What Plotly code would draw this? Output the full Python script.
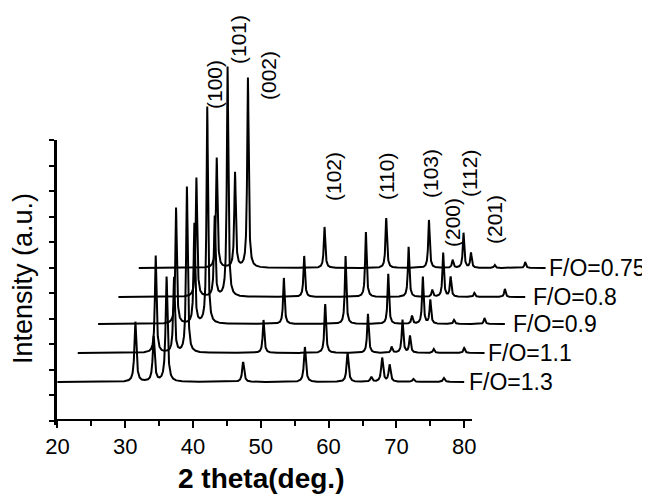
import numpy as np
import plotly.graph_objects as go

# ---- data ----
samples = ["F/O=1.3", "F/O=1.1", "F/O=0.9", "F/O=0.8", "F/O=0.75"]
hkl = ["(100)", "(002)", "(101)", "(102)", "(110)", "(103)", "(200)", "(112)", "(201)", "(004)", "(202)"]
peak_pos = [31.5, 34.2, 36.1, 47.4, 56.5, 62.8, 66.3, 67.9, 69.0, 72.5, 77.0]   # 2theta (deg)

# peak heights (a.u.) per sample, same order as peak_pos
h_13 = [60, 45, 105, 20, 35, 29, 5, 24, 17, 3, 4]
h_11 = [97, 75, 166, 33, 49, 39, 6, 33, 17, 4, 5]
h_09 = [116, 100, 217, 46, 68, 50, 8, 47, 24, 4, 6]
h_08 = [119, 80, 230, 41, 65, 50, 7, 44, 20, 4, 8]
h_075 = [110, 95, 190, 41, 50, 48, 8, 35, 15, 3, 6]
heights = [h_13, h_11, h_09, h_08, h_075]

# waterfall offsets of each pattern
base_level = [43, 72, 101, 128, 157]        # a.u.
x_shift = [0, 3, 6, 9, 12]                  # deg
peak_hwhm = [0.17, 0.14, 0.13, 0.13, 0.13]  # deg

scan_start, scan_end = 20.0, 80.0

# peak-label annotations (position in 2theta, a.u.)
label_text = ["(100)", "(101)", "(002)", "(102)", "(110)", "(103)", "(200)", "(112)", "(201)"]
label_x = [43.10, 46.64, 51.06, 60.65, 68.47, 74.96, 78.20, 80.71, 84.40]
label_y = [340, 385, 350, 248, 248, 251, 202, 251, 205]

# sample labels
sample_lab_x = [80.56, 83.36, 87.05, 90.00, 92.36]

FONT = "Liberation Sans, Arial, sans-serif"

# ---- geometry (page has an 8 px body margin) ----
OFF = 8
W, H = 650, 494
plot_bottom_scr = 425            # screen y of plot-area bottom
PB = plot_bottom_scr - OFF       # plot-area height in figure px
px_per_deg = 6.78
x20_scr = 57.4                   # screen x of 2theta = 20

x0 = 20 - (x20_scr - OFF) / px_per_deg
x1 = x0 + W / px_per_deg


def paper_xy(sx, sy):
    return (sx - OFF) / W, (plot_bottom_scr - sy) / PB


fig = go.Figure()
tt = np.arange(scan_start, scan_end + 1e-9, 0.02)
for k, name in enumerate(samples):
    g = peak_hwhm[k]
    y = np.full_like(tt, float(base_level[k]))
    for p, h in zip(peak_pos, heights[k]):
        y += h / (1.0 + ((tt - p) / g) ** 2)
    fig.add_trace(go.Scatter(x=tt + x_shift[k], y=y, mode="lines",
                             line=dict(color="black", width=2), name=name,
                             hoverinfo="skip"))
    fig.add_annotation(x=sample_lab_x[k], y=base_level[k], xref="x", yref="y",
                       text=name, showarrow=False, xanchor="left", yanchor="middle",
                       font=dict(family=FONT, size=23, color="black"), borderpad=0)

for t, lx, ly in zip(label_text, label_x, label_y):
    fig.add_annotation(x=lx, y=ly, xref="x", yref="y", text=t, showarrow=False,
                       xanchor="center", yanchor="middle",
                       textangle=-90, font=dict(family=FONT, size=21, color="black"))

# decorative axes subplot
fig.add_trace(go.Scatter(x=[None], y=[None], xaxis="x2", yaxis="y2", showlegend=False))

fig.update_layout(
    template="none",
    width=W, height=H,
    margin=dict(l=0, r=0, t=0, b=H - PB, pad=0, autoexpand=False),
    paper_bgcolor="white", plot_bgcolor="rgba(0,0,0,0)",
    showlegend=False,
    xaxis=dict(range=[x0, x1], domain=[0, 1], visible=False, automargin=False),
    yaxis=dict(range=[0, PB], domain=[0, 1], visible=False, automargin=False),
    xaxis2=dict(range=[20, 81.2],
                domain=[(x20_scr - OFF) / W, (x20_scr + 61.2 * px_per_deg - OFF) / W],
                anchor="free", position=(plot_bottom_scr - 420) / PB, automargin=False,
                showline=True, linecolor="black", linewidth=2,
                ticks="outside", ticklen=7, tickwidth=2, tickcolor="black",
                tick0=0, dtick=10,
                minor=dict(dtick=5, ticks="outside", ticklen=5, tickwidth=2, tickcolor="black",
                           showgrid=False),
                showgrid=False, zeroline=False,
                tickfont=dict(family=FONT, size=22, color="black")),
    yaxis2=dict(range=[-0.16, 11], domain=[0, (plot_bottom_scr - 140) / PB],
                anchor="free", position=(55 - OFF) / W, automargin=False,
                showline=True, linecolor="black", linewidth=2.5,
                ticks="outside", ticklen=5, tickwidth=2, tickcolor="black",
                tick0=0, dtick=1, showticklabels=False,
                showgrid=False, zeroline=False),
)

px_, py_ = paper_xy(23, 279)
fig.add_annotation(x=px_, y=py_, xref="paper", yref="paper", xanchor="center", yanchor="middle",
                   text="Intensity (a.u.)", textangle=-90, showarrow=False,
                   font=dict(family=FONT, size=27, color="black"))
px_, py_ = paper_xy(261, 478)
fig.add_annotation(x=px_, y=py_, xref="paper", yref="paper", xanchor="center", yanchor="middle",
                   text="<b>2 theta(deg.)</b>", showarrow=False,
                   font=dict(family=FONT, size=28, color="black"))

fig.write_html("out.html")
